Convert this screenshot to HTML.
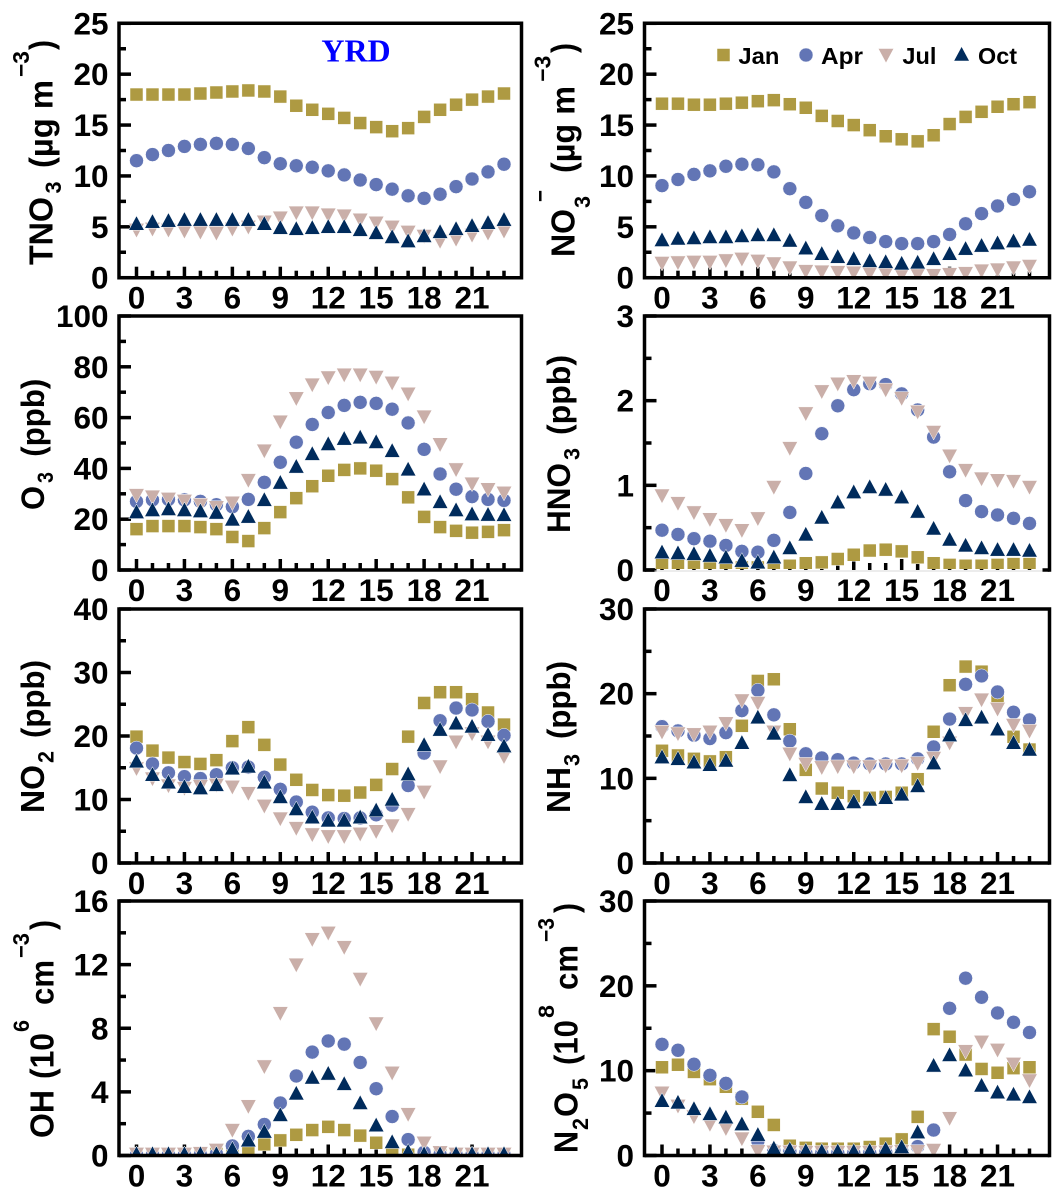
<!DOCTYPE html>
<html lang="en">
<head>
<meta charset="utf-8">
<title>YRD diurnal profiles</title>
<style>
  html, body { margin: 0; padding: 0; background: #fff; }
  svg { display: block; }
  text { font-family: "Liberation Sans", Arial, sans-serif; font-weight: bold; fill: #000; }
  .yrd { font-family: "Liberation Serif", serif; fill: #0000ff; }
</style>
</head>
<body>
<svg id="chart" xmlns="http://www.w3.org/2000/svg" width="1064" height="1201" viewBox="0 0 1064 1201">
  <rect x="0" y="0" width="1064" height="1201" fill="#fff"/>
  <g id="panels"></g>

  <g>
    <text transform="translate(52.4,265) rotate(-90)" font-size="33" textLength="68" lengthAdjust="spacingAndGlyphs">TNO</text>
    <text transform="translate(61,193.5) rotate(-90)" font-size="22" textLength="12" lengthAdjust="spacingAndGlyphs">3</text>
    <text transform="translate(52.4,168) rotate(-90)" font-size="33" textLength="88" lengthAdjust="spacingAndGlyphs">(µg m</text>
    <text transform="translate(29,77) rotate(-90)" font-size="23" textLength="26" lengthAdjust="spacingAndGlyphs">−3</text>
    <text transform="translate(52.4,50) rotate(-90)" font-size="33" textLength="10" lengthAdjust="spacingAndGlyphs">)</text>
  </g>
  <g>
    <text transform="translate(574.3,257) rotate(-90)" font-size="33" textLength="48" lengthAdjust="spacingAndGlyphs">NO</text>
    <text transform="translate(590,208) rotate(-90)" font-size="22" textLength="12" lengthAdjust="spacingAndGlyphs">3</text>
    <text transform="translate(548,202) rotate(-90)" font-size="23" textLength="12" lengthAdjust="spacingAndGlyphs">−</text>
    <text transform="translate(574.3,173) rotate(-90)" font-size="33" textLength="87" lengthAdjust="spacingAndGlyphs">(µg m</text>
    <text transform="translate(550.6,81.7) rotate(-90)" font-size="23" textLength="26" lengthAdjust="spacingAndGlyphs">−3</text>
    <text transform="translate(574.3,53) rotate(-90)" font-size="33" textLength="10" lengthAdjust="spacingAndGlyphs">)</text>
  </g>
  <g>
    <text transform="translate(44,510) rotate(-90)" font-size="32" textLength="24" lengthAdjust="spacingAndGlyphs">O</text>
    <text transform="translate(53,483) rotate(-90)" font-size="22" textLength="11" lengthAdjust="spacingAndGlyphs">3</text>
    <text transform="translate(44,456.7) rotate(-90)" font-size="32" textLength="78" lengthAdjust="spacingAndGlyphs">(ppb)</text>
  </g>
  <g>
    <text transform="translate(569.9,533) rotate(-90)" font-size="32.5" textLength="70" lengthAdjust="spacingAndGlyphs">HNO</text>
    <text transform="translate(579.5,460) rotate(-90)" font-size="22" textLength="12" lengthAdjust="spacingAndGlyphs">3</text>
    <text transform="translate(569.9,435) rotate(-90)" font-size="32" textLength="80" lengthAdjust="spacingAndGlyphs">(ppb)</text>
  </g>
  <g>
    <text transform="translate(44,813) rotate(-90)" font-size="33" textLength="48" lengthAdjust="spacingAndGlyphs">NO</text>
    <text transform="translate(53.4,763) rotate(-90)" font-size="22" textLength="12" lengthAdjust="spacingAndGlyphs">2</text>
    <text transform="translate(44,738) rotate(-90)" font-size="32" textLength="78" lengthAdjust="spacingAndGlyphs">(ppb)</text>
  </g>
  <g>
    <text transform="translate(569.9,813) rotate(-90)" font-size="33" textLength="46" lengthAdjust="spacingAndGlyphs">NH</text>
    <text transform="translate(579.5,766) rotate(-90)" font-size="22" textLength="12" lengthAdjust="spacingAndGlyphs">3</text>
    <text transform="translate(569.9,739) rotate(-90)" font-size="32" textLength="78" lengthAdjust="spacingAndGlyphs">(ppb)</text>
  </g>
  <g>
    <text transform="translate(53.4,1138) rotate(-90)" font-size="33" textLength="48" lengthAdjust="spacingAndGlyphs">OH</text>
    <text transform="translate(53.4,1079) rotate(-90)" font-size="33" textLength="46" lengthAdjust="spacingAndGlyphs">(10</text>
    <text transform="translate(28.8,1032) rotate(-90)" font-size="22" textLength="12" lengthAdjust="spacingAndGlyphs">6</text>
    <text transform="translate(53.4,1005) rotate(-90)" font-size="33" textLength="45" lengthAdjust="spacingAndGlyphs">cm</text>
    <text transform="translate(28.8,958) rotate(-90)" font-size="23" textLength="25" lengthAdjust="spacingAndGlyphs">−3</text>
    <text transform="translate(53.4,930) rotate(-90)" font-size="33" textLength="10" lengthAdjust="spacingAndGlyphs">)</text>
  </g>
  <g>
    <text transform="translate(577.7,1153) rotate(-90)" font-size="33" textLength="22" lengthAdjust="spacingAndGlyphs">N</text>
    <text transform="translate(587.8,1130) rotate(-90)" font-size="22" textLength="12" lengthAdjust="spacingAndGlyphs">2</text>
    <text transform="translate(577.7,1117) rotate(-90)" font-size="33" textLength="25" lengthAdjust="spacingAndGlyphs">O</text>
    <text transform="translate(587.8,1090) rotate(-90)" font-size="22" textLength="12" lengthAdjust="spacingAndGlyphs">5</text>
    <text transform="translate(577.7,1065) rotate(-90)" font-size="33" textLength="45" lengthAdjust="spacingAndGlyphs">(10</text>
    <text transform="translate(554,1018) rotate(-90)" font-size="22" textLength="13" lengthAdjust="spacingAndGlyphs">8</text>
    <text transform="translate(577.7,990) rotate(-90)" font-size="33" textLength="45" lengthAdjust="spacingAndGlyphs">cm</text>
    <text transform="translate(554,942) rotate(-90)" font-size="23" textLength="24" lengthAdjust="spacingAndGlyphs">−3</text>
    <text transform="translate(577.7,913) rotate(-90)" font-size="33" textLength="10" lengthAdjust="spacingAndGlyphs">)</text>
  </g>

  <text class="yrd" x="356" y="61.7" font-size="32" text-anchor="middle">YRD</text>

  <g>
    <g>
      <rect x="717" y="48.5" width="13" height="13" fill="#AE9A42" stroke="#fff" stroke-width="0.5"/>
      <text x="738.4" y="64" font-size="23.5" textLength="41" lengthAdjust="spacingAndGlyphs">Jan</text>
    </g>
    <g>
      <circle cx="806" cy="55" r="7" fill="#6275B5" stroke="#fff" stroke-width="0.5"/>
      <text x="821" y="64" font-size="23.5" textLength="42" lengthAdjust="spacingAndGlyphs">Apr</text>
    </g>
    <g>
      <polygon points="878.2,48.5 893.8,48.5 886,63" fill="#CAAFA9" stroke="#fff" stroke-width="0.5"/>
      <text x="902.4" y="64" font-size="23.5" textLength="34" lengthAdjust="spacingAndGlyphs">Jul</text>
    </g>
    <g>
      <polygon points="961.6,46.5 969.4,61 953.8,61" fill="#002B5C" stroke="#fff" stroke-width="0.5"/>
      <text x="978" y="64" font-size="23.5" textLength="39" lengthAdjust="spacingAndGlyphs">Oct</text>
    </g>
  </g>
</svg>

<script>
// ---- categories and tick labels ----
const hours = [0,1,2,3,4,5,6,7,8,9,10,11,12,13,14,15,16,17,18,19,20,21,22,23];
const xTickLabels = [0,3,6,9,12,15,18,21];
const tno3Ticks = [0,5,10,15,20,25];
const no3Ticks = [0,5,10,15,20,25];
const o3Ticks = [0,20,40,60,80,100];
const hno3Ticks = [0,1,2,3];
const no2Ticks = [0,10,20,30,40];
const nh3Ticks = [0,10,20,30];
const ohTicks = [0,4,8,12,16];
const n2o5Ticks = [0,10,20,30];

// ---- series values ----
const tno3Jan = [18.0,18.0,18.0,18.0,18.1,18.2,18.3,18.4,18.3,17.8,16.9,16.5,16.1,15.7,15.2,14.8,14.4,14.7,15.8,16.5,17.0,17.5,17.8,18.1];
const tno3Apr = [11.5,12.1,12.5,12.9,13.1,13.2,13.1,12.7,11.8,11.2,11.0,10.85,10.5,10.1,9.6,9.15,8.7,8.05,7.8,8.2,8.95,9.7,10.4,11.15];
const tno3Jul = [4.7,4.8,4.7,4.6,4.5,4.4,4.8,5.0,5.5,5.9,6.4,6.4,6.2,6.1,5.7,5.4,5.0,4.5,4.1,3.6,3.8,4.2,4.4,4.6];
const tno3Oct = [5.3,5.5,5.6,5.7,5.7,5.7,5.7,5.7,5.3,4.9,4.8,4.9,5.0,5.0,4.7,4.4,4.0,3.6,4.1,4.5,4.8,5.1,5.4,5.7];

const no3Jan = [17.1,17.1,17.0,17.0,17.1,17.2,17.35,17.45,17.05,16.7,15.9,15.4,15.0,14.5,13.9,13.6,13.4,14.0,15.1,15.8,16.3,16.8,17.05,17.25];
const no3Apr = [9.05,9.65,10.15,10.5,10.95,11.15,11.1,10.4,8.75,7.4,6.1,5.1,4.4,3.95,3.55,3.35,3.35,3.55,4.25,5.3,6.3,7.05,7.7,8.45];
const no3Jul = [1.45,1.5,1.55,1.55,1.7,1.85,1.65,1.4,1.0,0.65,0.6,0.55,0.5,0.45,0.4,0.3,0.3,0.25,0.35,0.45,0.7,0.8,1.0,1.15];
const no3Oct = [3.7,3.85,3.9,4.0,4.0,4.1,4.2,4.2,3.65,2.9,2.35,2.05,1.85,1.65,1.55,1.4,1.5,1.85,2.35,2.85,3.15,3.4,3.6,3.75];

const o3Jan = [16.1,17.3,17.3,17.3,16.9,16.1,13.0,11.4,16.5,22.8,28.3,33.0,37.1,39.4,40.0,39.1,35.8,28.6,20.9,16.9,15.4,14.7,15.0,15.7];
const o3Apr = [27.0,27.6,27.8,27.6,27.0,25.7,24.9,27.8,34.5,42.4,50.3,57.3,62.0,64.8,66.0,65.6,63.3,57.9,47.5,37.8,31.8,28.9,27.8,27.4];
const o3Jul = [29.5,28.9,28.0,27.2,25.7,24.7,26.5,35.4,47.0,58.4,67.6,73.0,75.8,76.9,76.9,76.0,73.7,69.4,60.4,49.5,39.6,34.0,31.8,30.4];
const o3Oct = [22.8,23.6,24.0,23.6,23.2,22.6,19.9,21.0,27.6,34.4,40.7,45.7,49.6,51.7,52.2,50.4,46.9,39.6,31.8,26.8,23.6,22.0,21.8,21.7];

const hno3Jan = [0.07,0.06,0.06,0.05,0.04,0.03,0.03,0.03,0.05,0.08,0.09,0.13,0.18,0.23,0.24,0.22,0.15,0.08,0.06,0.05,0.05,0.06,0.07,0.07];
const hno3Apr = [0.47,0.42,0.37,0.34,0.29,0.22,0.21,0.35,0.68,1.14,1.61,1.94,2.13,2.2,2.19,2.08,1.89,1.57,1.16,0.82,0.69,0.65,0.61,0.55];
const hno3Jul = [0.88,0.79,0.68,0.6,0.53,0.47,0.61,0.98,1.44,1.85,2.11,2.2,2.23,2.21,2.13,2.03,1.87,1.63,1.35,1.18,1.08,1.06,1.05,0.98];
const hno3Oct = [0.21,0.2,0.19,0.17,0.15,0.11,0.09,0.15,0.26,0.42,0.62,0.8,0.92,0.98,0.95,0.86,0.69,0.49,0.36,0.29,0.26,0.24,0.24,0.23];

const no2Jan = [19.9,17.7,16.6,15.9,15.6,16.2,19.2,21.4,18.6,15.5,13.1,11.5,10.7,10.6,11.1,12.3,14.8,19.9,25.2,26.9,26.9,25.8,23.7,21.8];
const no2Apr = [18.1,15.6,14.2,13.6,13.3,13.9,15.0,15.1,13.5,11.6,9.6,8.0,7.1,7.0,7.1,7.6,9.1,12.2,17.3,22.4,24.4,24.1,22.3,20.1];
const no2Jul = [14.9,13.3,12.2,11.8,12.1,12.3,12.0,11.0,9.0,7.0,5.5,4.5,4.2,4.2,4.6,5.0,5.9,7.7,11.2,15.2,19.1,20.4,19.1,16.8];
const no2Oct = [16.0,13.9,12.7,12.0,11.8,12.3,14.9,15.2,12.7,10.4,8.5,7.2,6.7,6.7,7.2,8.3,10.0,14.0,18.6,21.0,22.0,21.5,20.2,18.4];

const nh3Jan = [13.25,12.7,12.3,12.0,12.5,16.2,21.5,21.7,15.8,11.0,8.8,8.3,7.9,7.7,7.8,8.3,9.9,15.5,21.0,23.2,22.6,19.4,14.9,13.4];
const nh3Apr = [16.1,15.6,15.1,14.7,15.4,18.0,20.4,17.5,14.4,12.9,12.4,12.2,11.8,11.7,11.7,11.7,12.3,13.7,17.0,21.1,22.1,20.2,17.8,16.9];
const nh3Jul = [15.5,15.3,15.2,15.5,16.5,19.2,18.9,15.5,12.9,11.7,11.3,11.4,11.4,11.4,11.5,11.5,11.8,12.4,14.2,17.7,19.3,18.2,16.3,15.6];
const nh3Oct = [12.5,12.3,11.9,11.6,12.1,14.2,17.2,15.3,10.4,7.8,7.0,7.0,7.2,7.5,7.7,8.1,9.1,11.8,15.1,16.9,17.2,15.8,14.2,13.4];

const ohJan = [0.03,0.03,0.03,0.03,0.05,0.1,0.15,0.3,0.7,0.95,1.3,1.6,1.8,1.6,1.25,0.8,0.25,0.05,0.03,0.03,0.03,0.03,0.03,0.03];
const ohApr = [0.05,0.05,0.05,0.05,0.05,0.1,0.6,1.2,1.95,3.3,5.0,6.5,7.2,7.0,5.85,4.2,2.45,1.0,0.2,0.05,0.05,0.05,0.05,0.05];
const ohJul = [0.1,0.1,0.1,0.1,0.15,0.35,1.6,3.1,5.6,8.95,12.0,13.6,14.0,13.1,11.1,8.3,5.2,2.6,0.8,0.2,0.1,0.1,0.1,0.1];
const ohOct = [0.1,0.1,0.1,0.1,0.1,0.1,0.4,0.95,1.5,2.55,3.9,4.9,5.15,4.5,3.3,1.9,0.85,0.25,0.1,0.1,0.1,0.1,0.1,0.1];

const n2o5Jan = [10.4,10.7,9.85,9.0,8.1,6.7,5.15,3.6,1.15,0.9,0.8,0.8,0.8,1.0,1.4,1.9,4.55,14.9,14.0,11.9,10.2,9.75,10.3,10.4];
const n2o5Apr = [13.1,12.4,10.75,9.45,8.5,6.9,1.7,0.6,0.5,0.3,0.3,0.3,0.3,0.3,0.4,0.6,1.05,3.0,17.35,20.9,18.65,16.8,15.7,14.5];
const n2o5Jul = [7.4,5.85,4.6,3.7,3.2,2.0,0.5,0.45,0.45,0.4,0.4,0.4,0.4,0.4,0.45,0.5,0.5,0.65,4.4,12.3,13.4,12.45,10.8,8.85];
const n2o5Oct = [6.45,6.25,5.5,4.9,4.5,3.7,2.45,0.85,0.7,0.55,0.5,0.5,0.5,0.55,0.75,1.0,2.75,10.6,11.85,10.05,8.25,7.45,7.2,6.9];

const panelDefs = [
  { id:'tno3', col:0, row:0, ticks:tno3Ticks, series:[tno3Jan,tno3Apr,tno3Jul,tno3Oct] },
  { id:'no3',  col:1, row:0, ticks:no3Ticks,  series:[no3Jan,no3Apr,no3Jul,no3Oct] },
  { id:'o3',   col:0, row:1, ticks:o3Ticks,   series:[o3Jan,o3Apr,o3Jul,o3Oct] },
  { id:'hno3', col:1, row:1, ticks:hno3Ticks, series:[hno3Jan,hno3Apr,hno3Jul,hno3Oct], softBaseline:true },
  { id:'no2',  col:0, row:2, ticks:no2Ticks,  series:[no2Jan,no2Apr,no2Jul,no2Oct] },
  { id:'nh3',  col:1, row:2, ticks:nh3Ticks,  series:[nh3Jan,nh3Apr,nh3Jul,nh3Oct] },
  { id:'oh',   col:0, row:3, ticks:ohTicks,   series:[ohJan,ohApr,ohJul,ohOct] },
  { id:'n2o5', col:1, row:3, ticks:n2o5Ticks, series:[n2o5Jan,n2o5Apr,n2o5Jul,n2o5Oct] }
];
const seriesNames = ['jan','apr','jul','oct'];
const seriesColors = ['#AE9A42','#6275B5','#CAAFA9','#002B5C'];

// ---- layout ----
const colLeft = [119, 644.5];
const colRight = [521.5, 1049.5];
const colHour0 = [136.5, 662];
const colHour23 = [504, 1029.5];
const rowTop = [23.3, 316, 609, 901];
const rowBottom = [277.7, 570, 863, 1155.5];
const NS = 'http://www.w3.org/2000/svg';
const root = document.getElementById('panels');

function make(tag, parent, attrs) {
  const el = document.createElementNS(NS, tag);
  for (const k in attrs) el.setAttribute(k, attrs[k]);
  parent.appendChild(el);
  return el;
}

function marker(g, kind, cx, cy) {
  let el;
  if (kind === 0) {
    el = make('rect', g, { x: cx - 6.5, y: cy - 6.5, width: 13, height: 13 });
  } else if (kind === 1) {
    el = make('circle', g, { cx: cx, cy: cy, r: 7 });
  } else if (kind === 2) {
    el = make('polygon', g, { points: (cx-7.8)+','+(cy-6.5)+' '+(cx+7.8)+','+(cy-6.5)+' '+cx+','+(cy+8) });
  } else {
    el = make('polygon', g, { points: cx+','+(cy-8)+' '+(cx+7.8)+','+(cy+6.5)+' '+(cx-7.8)+','+(cy+6.5) });
  }
  el.setAttribute('fill', seriesColors[kind]);
  el.setAttribute('stroke', '#fff');
  el.setAttribute('stroke-width', '0.5');
  return el;
}

panelDefs.forEach(function (p) {
  const L = colLeft[p.col], R = colRight[p.col], T = rowTop[p.row], B = rowBottom[p.row];
  const yMax = p.ticks[p.ticks.length - 1];
  const x0 = colHour0[p.col], x1 = colHour23[p.col];
  const xScale = function (h) { return x0 + (x1 - x0) * h / (hours.length - 1); };
  const yScale = function (v) { return B - (B - T) * v / yMax; };

  const g = make('g', root, {});
  
  

  const clip = make('clipPath', g, { id: 'clip-' + p.id });
  make('rect', clip, { x: L, y: T, width: R - L, height: B - T - 1 });

  // x ticks
  const xTicks = make('g', g, { stroke: '#000', 'stroke-width': 3.5 });
  
  
  hours.forEach(function (h) {
    const major = xTickLabels.indexOf(h) >= 0;
    make('line', xTicks, { x1: xScale(h), x2: xScale(h), y1: B, y2: B - (major ? 11 : 7) });
  });

  // y ticks (major at labels, minor halfway)
  const yTicks = make('g', g, { stroke: '#000', 'stroke-width': 3.5 });
  
  
  p.ticks.forEach(function (v, i) {
    make('line', yTicks, { x1: L, x2: L + 12, y1: yScale(v), y2: yScale(v) });
    if (i < p.ticks.length - 1) {
      const m = (v + p.ticks[i + 1]) / 2;
      make('line', yTicks, { x1: L, x2: L + 7, y1: yScale(m), y2: yScale(m) });
    }
  });

  // series markers
  const plot = make('g', g, { 'clip-path': 'url(#clip-' + p.id + ')' });
  
  
  p.series.forEach(function (values, s) {
    const sg = make('g', plot, {});
    
    
    values.forEach(function (v, i) {
      const el = marker(sg, s, xScale(hours[i]), yScale(v));
      
      
    });
  });

  // frame
  const frame = make('g', g, { stroke: '#000', 'stroke-width': 3.5, fill: 'none' });
  
  
  make('path', frame, { d: 'M' + L + ' ' + (B + 1.75) + 'V' + T + 'H' + R + 'V' + (B + 1.75) });
  if (p.softBaseline) {
    make('line', frame, { x1: L, x2: L + 10, y1: B, y2: B });
    make('line', frame, { x1: R - 7, x2: R, y1: B, y2: B });
    make('line', frame, { x1: L + 10, x2: R - 7, y1: B + 1, y2: B + 1, stroke: '#d8d8d8', 'stroke-width': 1 });
  } else {
    make('line', frame, { x1: L, x2: R, y1: B, y2: B });
  }

  // tick labels
  const ylab = make('g', g, { 'font-size': 31.5, 'text-anchor': 'end' });
  
  
  p.ticks.forEach(function (v) {
    const t = make('text', ylab, { x: L - 10.5, y: yScale(v) + 11 });
    t.textContent = String(v);
  });
  const xlab = make('g', g, { 'font-size': 31.5, 'text-anchor': 'middle' });
  
  
  xTickLabels.forEach(function (h) {
    const t = make('text', xlab, { x: xScale(h), y: B + 31 });
    t.textContent = String(h);
  });
});
</script>
</body>
</html>
